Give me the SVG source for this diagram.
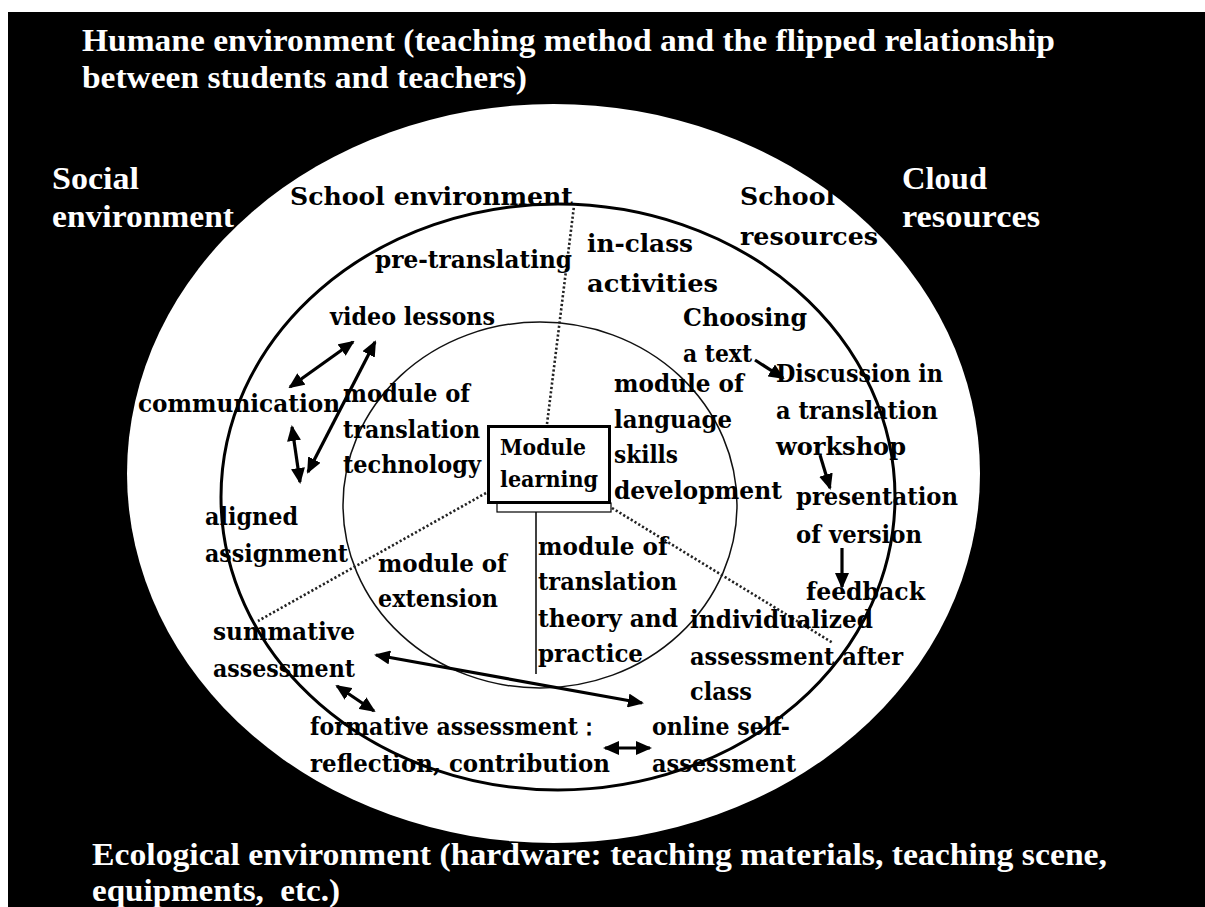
<svg xmlns="http://www.w3.org/2000/svg" width="1205" height="907" viewBox="0 0 1205 907">
<defs>
<style>
.w{fill:#fff;font-family:"Liberation Serif","Times New Roman",serif;font-weight:bold;font-size:31px;white-space:pre}
.b{fill:#000;font-family:"DejaVu Serif","Liberation Serif",serif;font-weight:bold;font-size:24px}
.m{fill:#000;font-family:"DejaVu Serif","Liberation Serif",serif;font-weight:bold;font-size:22px}
.ar{stroke:#000;stroke-width:3.2;fill:none}
.dot{stroke:#222;stroke-width:2.6;stroke-dasharray:2.2 2.2;fill:none}
</style>
<marker id="ah" markerUnits="userSpaceOnUse" markerWidth="16" markerHeight="14" viewBox="0 0 16 14" refX="14" refY="7" orient="auto-start-reverse">
<path d="M0,0 L16,7 L0,14 Z" fill="#000"/>
</marker>
</defs>
<rect x="0" y="0" width="1205" height="907" fill="#fff"/>
<rect x="8" y="12" width="1197" height="895" fill="#000"/>

<g id="outer-ellipse"><ellipse cx="553.5" cy="473.5" rx="426.5" ry="369.5" fill="#fff"/></g>
<g id="school-ellipse"><ellipse cx="558" cy="497" rx="337" ry="293" fill="none" stroke="#000" stroke-width="3"/></g>
<g id="inner-circle"><ellipse cx="540" cy="505" rx="197" ry="183" fill="none" stroke="#111" stroke-width="1.5"/></g>

<g id="connectors">
<line class="dot" x1="547" y1="424" x2="574" y2="206"/>
<line class="dot" x1="486" y1="493" x2="258" y2="621"/>
<line class="dot" x1="612" y1="508" x2="833" y2="643"/>
<line x1="536" y1="512" x2="536" y2="674" stroke="#000" stroke-width="1.5"/>
<line class="ar" x1="290" y1="387" x2="353" y2="342" marker-start="url(#ah)" marker-end="url(#ah)"/>
<line class="ar" x1="308" y1="472" x2="375" y2="342" marker-start="url(#ah)" marker-end="url(#ah)"/>
<line class="ar" x1="292" y1="427" x2="300" y2="482" marker-start="url(#ah)" marker-end="url(#ah)"/>
<line class="ar" x1="755" y1="360" x2="783" y2="378" marker-end="url(#ah)"/>
<line class="ar" x1="820" y1="455" x2="830" y2="488" marker-end="url(#ah)"/>
<line class="ar" x1="842" y1="548" x2="842" y2="587" marker-end="url(#ah)"/>
<line class="ar" x1="376" y1="655" x2="642" y2="703" marker-start="url(#ah)" marker-end="url(#ah)"/>
<line class="ar" x1="337" y1="686" x2="374" y2="711" marker-start="url(#ah)" marker-end="url(#ah)"/>
<line class="ar" x1="605" y1="748" x2="650" y2="748" marker-start="url(#ah)" marker-end="url(#ah)"/>
</g>

<g id="humane">
<text class="w" x="82" y="51" textLength="973" lengthAdjust="spacingAndGlyphs">Humane environment (teaching method and the flipped relationship</text>
<text class="w" x="82" y="88" textLength="445" lengthAdjust="spacingAndGlyphs">between students and teachers)</text>
</g>
<g id="social">
<text class="w" x="52" y="189" textLength="87" lengthAdjust="spacingAndGlyphs">Social</text>
<text class="w" x="52" y="227" textLength="182" lengthAdjust="spacingAndGlyphs">environment</text>
</g>
<g id="cloud">
<text class="w" x="902" y="189" textLength="85" lengthAdjust="spacingAndGlyphs">Cloud</text>
<text class="w" x="902" y="227" textLength="138" lengthAdjust="spacingAndGlyphs">resources</text>
</g>
<g id="ecological">
<text class="w" x="92" y="865" textLength="1015" lengthAdjust="spacingAndGlyphs">Ecological environment (hardware: teaching materials, teaching scene,</text>
<text class="w" x="92" y="901" textLength="248" lengthAdjust="spacingAndGlyphs">equipments,  etc.)</text>
</g>

<g id="school-env"><text class="b" x="290" y="205" textLength="283" lengthAdjust="spacingAndGlyphs">School environment</text></g>
<g id="school-res">
<text class="b" x="740" y="205" textLength="95" lengthAdjust="spacingAndGlyphs">School</text>
<text class="b" x="740" y="245" textLength="138" lengthAdjust="spacingAndGlyphs">resources</text>
</g>
<g id="pre-translating"><text class="b" x="375" y="268" textLength="197" lengthAdjust="spacingAndGlyphs">pre-translating</text></g>
<g id="in-class">
<text class="b" x="587" y="252" textLength="106" lengthAdjust="spacingAndGlyphs">in-class</text>
<text class="b" x="587" y="292" textLength="131" lengthAdjust="spacingAndGlyphs">activities</text>
</g>
<g id="video"><text class="b" x="330" y="325" textLength="165" lengthAdjust="spacingAndGlyphs">video lessons</text></g>
<g id="choosing">
<text class="b" x="683" y="326" textLength="124" lengthAdjust="spacingAndGlyphs">Choosing</text>
<text class="b" x="683" y="362" textLength="69" lengthAdjust="spacingAndGlyphs">a text</text>
</g>
<g id="communication"><text class="b" x="138" y="412" textLength="202" lengthAdjust="spacingAndGlyphs">communication</text></g>
<g id="mod-tech">
<text class="b" x="343" y="402" textLength="127" lengthAdjust="spacingAndGlyphs">module of</text>
<text class="b" x="343" y="438" textLength="137" lengthAdjust="spacingAndGlyphs">translation</text>
<text class="b" x="343" y="473" textLength="138" lengthAdjust="spacingAndGlyphs">technology</text>
</g>
<g id="mod-lang">
<text class="b" x="614" y="392" textLength="130" lengthAdjust="spacingAndGlyphs">module of</text>
<text class="b" x="614" y="428" textLength="118" lengthAdjust="spacingAndGlyphs">language</text>
<text class="b" x="614" y="463" textLength="64" lengthAdjust="spacingAndGlyphs">skills</text>
<text class="b" x="614" y="499" textLength="168" lengthAdjust="spacingAndGlyphs">development</text>
</g>
<g id="discussion">
<text class="b" x="776" y="382" textLength="167" lengthAdjust="spacingAndGlyphs">Discussion in</text>
<text class="b" x="776" y="419" textLength="162" lengthAdjust="spacingAndGlyphs">a translation</text>
<text class="b" x="776" y="455" textLength="130" lengthAdjust="spacingAndGlyphs">workshop</text>
</g>
<g id="presentation">
<text class="b" x="796" y="505" textLength="162" lengthAdjust="spacingAndGlyphs">presentation</text>
<text class="b" x="796" y="543" textLength="126" lengthAdjust="spacingAndGlyphs">of version</text>
</g>
<g id="feedback"><text class="b" x="806" y="600" textLength="119" lengthAdjust="spacingAndGlyphs">feedback</text></g>
<g id="aligned">
<text class="b" x="205" y="525" textLength="93" lengthAdjust="spacingAndGlyphs">aligned</text>
<text class="b" x="205" y="562" textLength="143" lengthAdjust="spacingAndGlyphs">assignment</text>
</g>
<g id="mod-ext">
<text class="b" x="378" y="572" textLength="129" lengthAdjust="spacingAndGlyphs">module of</text>
<text class="b" x="378" y="607" textLength="120" lengthAdjust="spacingAndGlyphs">extension</text>
</g>
<g id="mod-theory">
<text class="b" x="538" y="555" textLength="130" lengthAdjust="spacingAndGlyphs">module of</text>
<text class="b" x="538" y="590" textLength="139" lengthAdjust="spacingAndGlyphs">translation</text>
<text class="b" x="538" y="627" textLength="140" lengthAdjust="spacingAndGlyphs">theory and</text>
<text class="b" x="538" y="662" textLength="105" lengthAdjust="spacingAndGlyphs">practice</text>
</g>
<g id="individualized">
<text class="b" x="690" y="628" textLength="183" lengthAdjust="spacingAndGlyphs">individualized</text>
<text class="b" x="690" y="665" textLength="213" lengthAdjust="spacingAndGlyphs">assessment after</text>
<text class="b" x="690" y="700" textLength="62" lengthAdjust="spacingAndGlyphs">class</text>
</g>
<g id="summative">
<text class="b" x="213" y="640" textLength="142" lengthAdjust="spacingAndGlyphs">summative</text>
<text class="b" x="213" y="677" textLength="142" lengthAdjust="spacingAndGlyphs">assessment</text>
</g>
<g id="formative">
<text class="b" x="310" y="735" textLength="290" lengthAdjust="spacingAndGlyphs">formative assessment：</text>
<text class="b" x="310" y="772" textLength="300" lengthAdjust="spacingAndGlyphs">reflection, contribution</text>
</g>
<g id="online">
<text class="b" x="652" y="735" textLength="138" lengthAdjust="spacingAndGlyphs">online self-</text>
<text class="b" x="652" y="772" textLength="144" lengthAdjust="spacingAndGlyphs">assessment</text>
</g>

<g id="module-learning">
<rect x="497" y="503" width="114" height="9" fill="#fff" stroke="#000" stroke-width="1.2"/>
<rect x="488.5" y="426.5" width="121" height="76" fill="#fff" stroke="#000" stroke-width="3"/>
<text class="m" x="500" y="455" textLength="86" lengthAdjust="spacingAndGlyphs">Module</text>
<text class="m" x="500" y="487" textLength="98" lengthAdjust="spacingAndGlyphs">learning</text>
</g>
</svg>
